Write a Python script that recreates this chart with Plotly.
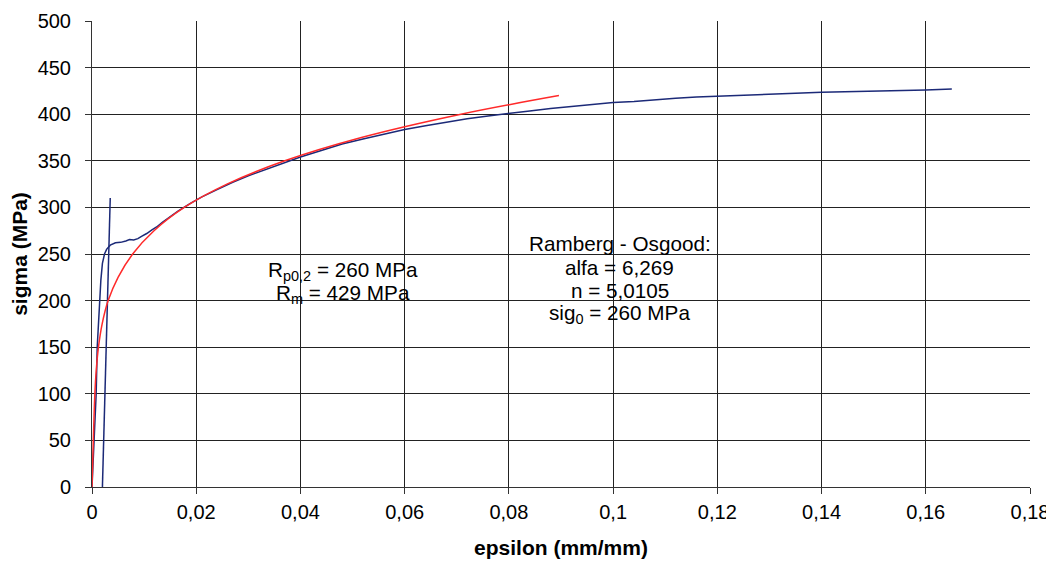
import plotly.graph_objects as go

# Experimental curve (blue)
test_eps = [0, 0.0004, 0.0008, 0.0010, 0.0014, 0.0017, 0.0020, 0.0024, 0.0028, 0.0035,
            0.0045, 0.0055, 0.0065, 0.0072, 0.0080, 0.0088, 0.0095, 0.0105, 0.0115, 0.0124,
            0.0135, 0.0150, 0.0165, 0.0188, 0.0210, 0.0240, 0.0270, 0.0300, 0.0330, 0.0360,
            0.0400, 0.0440, 0.0480, 0.0520, 0.0560, 0.0600, 0.0640, 0.0680, 0.0720, 0.0760,
            0.0800, 0.0840, 0.0880, 0.0920, 0.0960, 0.1000, 0.1040, 0.1080, 0.1120, 0.1160,
            0.1200, 0.1250, 0.1300, 0.1350, 0.1400, 0.1450, 0.1500, 0.1550, 0.1600, 0.1650]
test_sig = [0, 50, 100, 150, 200, 222, 240, 250, 255, 259.5,
            262, 262.5, 264, 265.5, 265, 266.5, 269, 272, 276, 279,
            284, 290, 296, 304, 311, 319, 327, 334, 340, 346,
            354, 361, 368, 373.5, 378.5, 383.5, 387.5, 391.5, 395, 398,
            401, 403.5, 406, 408, 410.5, 412.5, 413.5, 415.5, 417, 418.5,
            419.5, 420.5, 421.5, 422.5, 423.5, 424, 425, 425.5, 426, 427]

# 0.2 % offset line (blue)
offset_eps = [0.0020, 0.0035]
offset_sig = [0, 310]

# Ramberg-Osgood fit (red)
ro_eps = [0, 0.00025, 0.00055, 0.00081, 0.00124, 0.00195, 0.0031, 0.0050, 0.0078,
          0.0119, 0.0177, 0.0259, 0.0370, 0.0517, 0.0708, 0.0896]
ro_sig = [0, 50, 100, 125, 150, 175, 200, 225, 250,
          275, 300, 325, 350, 375, 400, 420]

x_ticks = [0, 0.02, 0.04, 0.06, 0.08, 0.1, 0.12, 0.14, 0.16, 0.18]
x_ticktext = ["0", "0,02", "0,04", "0,06", "0,08", "0,1", "0,12", "0,14", "0,16", "0,18"]
y_ticks = [0, 50, 100, 150, 200, 250, 300, 350, 400, 450, 500]

BLUE = "#1c2a78"
RED = "#ff2a2a"
FONT = "Liberation Sans, Arial, sans-serif"

fig = go.Figure()
fig.add_trace(go.Scatter(x=test_eps, y=test_sig, mode="lines",
                         line=dict(color=BLUE, width=1.5), showlegend=False))
fig.add_trace(go.Scatter(x=offset_eps, y=offset_sig, mode="lines",
                         line=dict(color=BLUE, width=1.5), showlegend=False))
fig.add_trace(go.Scatter(x=ro_eps, y=ro_sig, mode="lines", line_shape="spline",
                         line=dict(color=RED, width=1.5), showlegend=False))

ann_font = dict(family=FONT, size=20.7, color="black")
fig.add_annotation(x=0.0482, y=232, text="R<sub>p0,2</sub> = 260 MPa", showarrow=False, font=ann_font)
fig.add_annotation(x=0.0482, y=207, text="R<sub>m</sub> = 429 MPa", showarrow=False, font=ann_font)
fig.add_annotation(x=0.1013, y=261, text="Ramberg - Osgood:", showarrow=False, font=ann_font)
fig.add_annotation(x=0.1013, y=236, text="alfa = 6,269", showarrow=False, font=ann_font)
fig.add_annotation(x=0.1013, y=211, text="n = 5,0105", showarrow=False, font=ann_font)
fig.add_annotation(x=0.1013, y=186, text="sig<sub>0</sub> = 260 MPa", showarrow=False, font=ann_font)

fig.update_layout(
    width=1046, height=555,
    margin=dict(l=84, r=24, t=13, b=76),
    paper_bgcolor="white", plot_bgcolor="white",
    font=dict(family=FONT, size=20, color="black"),
)
fig.update_xaxes(
    range=[0, 0.18], tickvals=x_ticks, ticktext=x_ticktext,
    tickfont=dict(size=20),
    showgrid=True, gridcolor="#222222", gridwidth=1,
    showline=True, linecolor="#333333", linewidth=1,
    ticks="outside", ticklen=6, tickcolor="#333333",
    ticklabelstandoff=1,
    zeroline=False, automargin=False,
    title=dict(text="<b>epsilon (mm/mm)</b>", font=dict(family=FONT, size=21), standoff=18),
)
fig.update_yaxes(
    range=[0, 500], tickvals=y_ticks,
    tickfont=dict(size=20),
    showgrid=True, gridcolor="#222222", gridwidth=1,
    showline=True, linecolor="#333333", linewidth=1,
    ticks="outside", ticklen=6, tickcolor="#333333",
    ticklabelstandoff=10,
    zeroline=False, automargin=False,
    title=dict(text="<b>sigma (MPa)</b>", font=dict(family=FONT, size=21), standoff=4),
)

fig.write_html("out.html")
